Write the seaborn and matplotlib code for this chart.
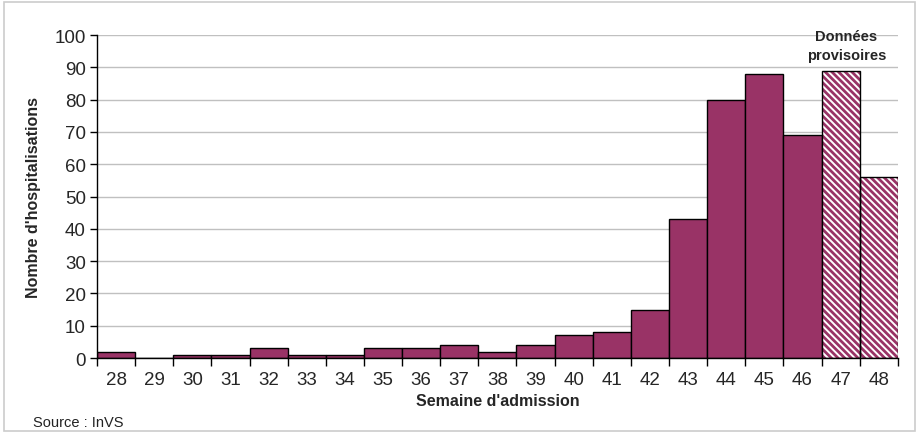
import numpy as np
import pandas as pd
import seaborn as sns
import matplotlib.pyplot as plt
from matplotlib.patches import Rectangle

weeks = [28, 29, 30, 31, 32, 33, 34, 35, 36, 37, 38, 39, 40, 41, 42, 43, 44, 45, 46, 47, 48]
hospitalisations = [2, 0, 1, 1, 3, 1, 1, 3, 3, 4, 2, 4, 7, 8, 15, 43, 80, 88, 69, 89, 56]
provisoire = [False] * 19 + [True, True]

maroon = '#993366'

sns.set_style('white')
plt.rcParams['font.family'] = ['Liberation Sans', 'DejaVu Sans']
plt.rcParams['hatch.linewidth'] = 2.0

df = pd.DataFrame({'semaine': [str(w) for w in weeks],
                   'n': hospitalisations,
                   'prov': provisoire})

fig = plt.figure(figsize=(9.19, 4.35), dpi=100)
ax = fig.add_axes([0.1055, 0.1747, 0.8715, 0.7423])

sns.barplot(data=df, x='semaine', y='n', color=maroon, saturation=1,
            width=1.0, edgecolor='black', linewidth=1.0, ax=ax, zorder=2)

# provisional weeks: white with maroon diagonal stripes
for patch, prov in zip(ax.patches, df['prov']):
    if prov:
        patch.set_facecolor('white')
        patch.set_edgecolor(maroon)
        patch.set_hatch('\\' * 5)
        patch.set_linewidth(0)
        ax.add_patch(Rectangle(patch.get_xy(), patch.get_width(), patch.get_height(),
                               facecolor='none', edgecolor='black', linewidth=1.0, zorder=3))

ax.set_ylim(0, 100)
ax.set_xlim(-0.5, len(weeks) - 0.5)
ax.set_yticks(np.arange(0, 101, 10))
ax.yaxis.grid(True, color='#c0c0c0', linewidth=1)
ax.set_axisbelow(True)

# tick marks between bars, labels centered
ax.set_xticks(np.arange(len(weeks)))
ax.set_xticklabels([str(w) for w in weeks])
ax.set_xticks(np.arange(len(weeks) + 1) - 0.5, minor=True)
ax.tick_params(axis='x', which='major', length=0, pad=9, labelsize=13.5)
ax.tick_params(axis='x', which='minor', length=6, width=1, color='black', direction='out')
ax.tick_params(axis='y', length=5, width=1, color='black', direction='out', labelsize=13.5, pad=3)
ax.tick_params(bottom=True, left=True, which='both')

for s in ['top', 'right']:
    ax.spines[s].set_visible(False)
for s in ['left', 'bottom']:
    ax.spines[s].set_color('black')
    ax.spines[s].set_linewidth(1)

ax.set_xlabel("Semaine d'admission", fontsize=11.5, fontweight='bold', labelpad=4)
ax.set_ylabel("Nombre d'hospitalisations", fontsize=11.5, fontweight='bold', labelpad=10)

ax.text(19.15, 102, 'Données\nprovisoires', ha='center', va='top',
        fontsize=10.5, fontweight='bold', linespacing=1.45, clip_on=False)

fig.text(0.036, 0.018, 'Source : InVS', fontsize=10.5, color='#222222')

fig.patches.append(Rectangle((0.004, 0.006), 0.992, 0.988, transform=fig.transFigure,
                             fill=False, edgecolor='#cccccc', linewidth=1.2))

fig.savefig('out.png', dpi=100)
